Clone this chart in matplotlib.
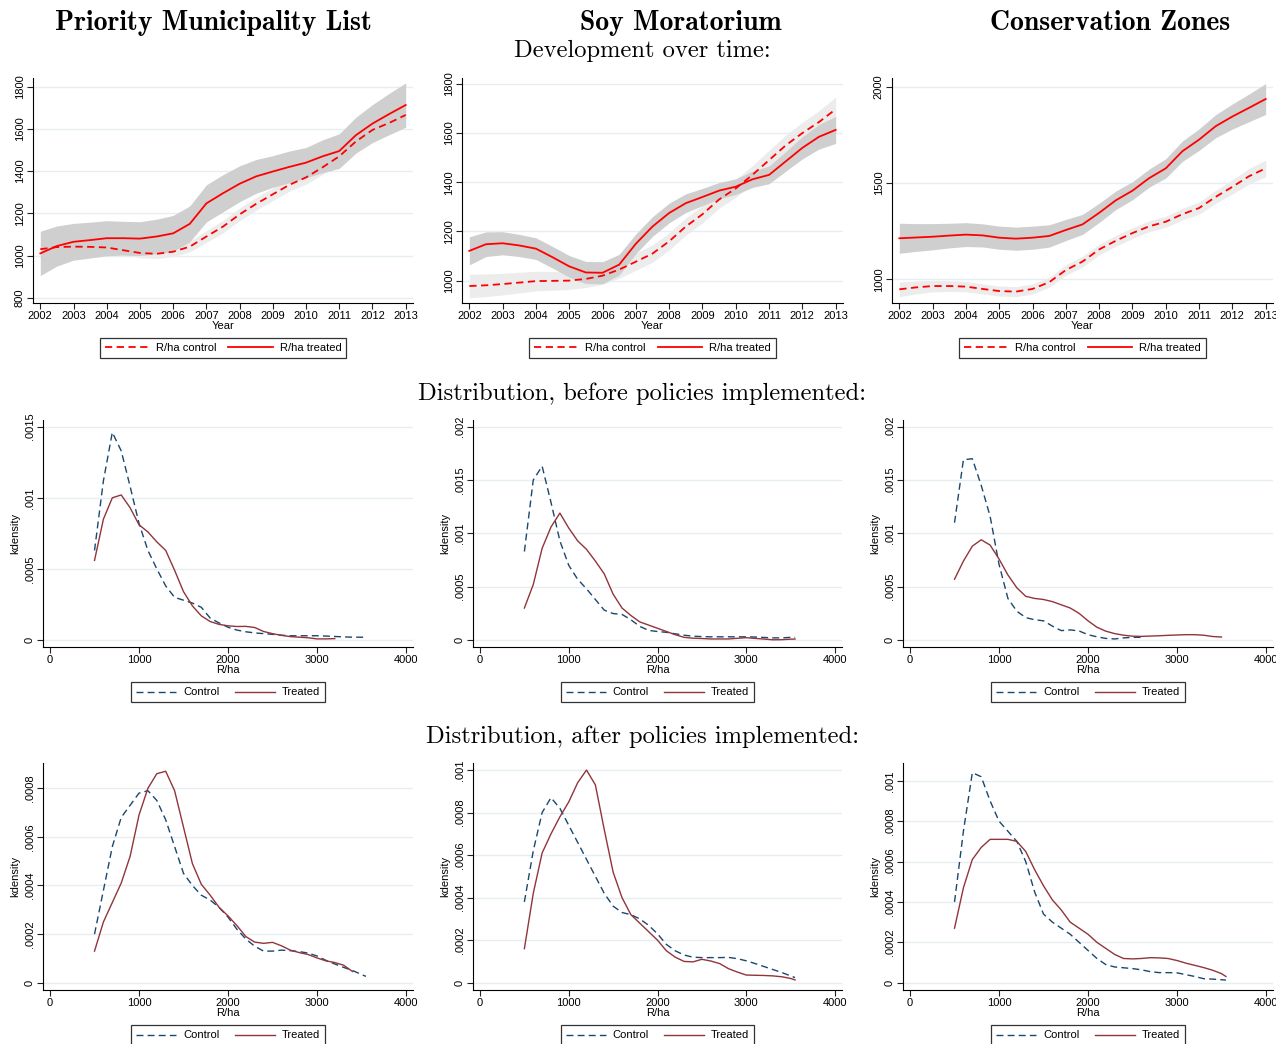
import numpy as np
import matplotlib

matplotlib.use("Agg")
import matplotlib.pyplot as plt

# ---- data -----------------------------------------------------------------
years = [2002, 2002.5, 2003, 2003.5, 2004, 2004.5, 2005, 2005.5, 2006, 2006.5, 2007, 2007.5,
         2008, 2008.5, 2009, 2009.5, 2010, 2010.5, 2011, 2011.5, 2012, 2012.5, 2013]

# Priority Municipality List: R/ha over time
pml_treated = [1010, 1045, 1065, 1073, 1082, 1082, 1080, 1090, 1105, 1150, 1247, 1295,
               1340, 1375, 1398, 1420, 1440, 1470, 1495, 1570, 1625, 1670, 1713]
pml_control = [1030, 1040, 1042, 1041, 1038, 1025, 1012, 1008, 1018, 1042, 1090, 1137,
               1195, 1245, 1290, 1335, 1370, 1418, 1470, 1540, 1595, 1628, 1666]
pml_treated_ci = [105, 95, 87, 85, 83, 80, 80, 82, 85, 85, 88, 88,
                  85, 80, 75, 75, 72, 78, 82, 85, 90, 98, 105]
pml_control_ci = [28, 26, 24, 23, 22, 22, 22, 22, 23, 25, 28, 30,
                  30, 30, 30, 30, 32, 34, 36, 38, 40, 42, 45]

# Soy Moratorium
soy_treated = [1121, 1148, 1152, 1143, 1130, 1095, 1058, 1033, 1032, 1065, 1150, 1220,
               1275, 1315, 1340, 1366, 1382, 1412, 1430, 1485, 1540, 1585, 1613]
soy_control = [978, 981, 986, 992, 998, 999, 1000, 1007, 1020, 1045, 1077, 1110,
               1160, 1220, 1270, 1330, 1375, 1430, 1490, 1550, 1600, 1645, 1697]
soy_treated_ci = [57, 50, 47, 45, 44, 44, 44, 45, 45, 42, 40, 40,
                  40, 38, 35, 33, 32, 33, 36, 40, 45, 50, 55]
soy_control_ci = [48, 46, 44, 42, 40, 38, 36, 35, 35, 35, 35, 35,
                  35, 35, 35, 35, 36, 38, 40, 42, 44, 46, 50]

# Conservation Zones
cz_treated = [1213, 1217, 1221, 1227, 1232, 1228, 1216, 1211, 1216, 1225, 1256, 1285,
              1345, 1410, 1460, 1525, 1576, 1665, 1725, 1795, 1845, 1890, 1936]
cz_control = [948, 958, 965, 965, 962, 950, 939, 936, 950, 985, 1048, 1092,
              1155, 1200, 1240, 1275, 1299, 1338, 1370, 1428, 1480, 1535, 1576]
cz_treated_ci = [78, 72, 68, 64, 62, 60, 60, 60, 60, 58, 55, 52,
                 50, 48, 47, 47, 50, 53, 56, 60, 65, 72, 80]
cz_control_ci = [38, 34, 30, 28, 27, 26, 26, 26, 26, 26, 27, 28,
                 28, 28, 28, 28, 29, 30, 32, 34, 37, 40, 43]

# kernel densities of R/ha
rha = [500, 600, 700, 800, 900, 1000, 1100, 1200, 1300, 1400, 1500, 1600, 1700, 1800, 1900,
       2000, 2100, 2200, 2300, 2400, 2500, 2600, 2700, 2800, 2900, 3000, 3100, 3200, 3300,
       3400, 3500, 3550]
nan = np.nan

pml_before_control = [0.00063, 0.00112, 0.00146, 0.00133, 0.00108, 0.00082, 0.00063, 0.0005,
                      0.00038, 0.0003, 0.00028, 0.00026, 0.00023, 0.000154, 0.00012, 0.00009,
                      0.00007, 0.000058, 0.00005, 0.000045, 0.00004, 0.000034, 0.00003, 0.00003,
                      0.00003, 0.00003, 0.000028, 0.000025, 0.000022, 0.00002, 0.00002, 0.000019]
pml_before_treated = [0.00056, 0.00085, 0.001, 0.00102, 0.00093, 0.00081, 0.00076, 0.00069,
                      0.00063, 0.00049, 0.00034, 0.00024, 0.00017, 0.00013, 0.00011, 0.0001,
                      0.000095, 0.000096, 0.000088, 0.00006, 0.000045, 0.000033, 0.000024,
                      0.00002, 0.000016, 0.000008, 0.000008, 0.00001, nan, nan, nan, nan]
soy_before_control = [0.00083, 0.0015, 0.00163, 0.00129, 0.00093, 0.0007, 0.00057, 0.00048,
                      0.00038, 0.00028, 0.000248, 0.00024, 0.00019, 0.000128, 0.00009, 0.00008,
                      0.000072, 0.000058, 0.000045, 0.000036, 0.000032, 0.00003, 0.00003,
                      0.00003, 0.00003, 0.00003, 0.000028, 0.000024, 0.00002, 0.00002,
                      0.000025, 0.000025]
soy_before_treated = [0.0003, 0.00052, 0.00086, 0.00106, 0.00119, 0.00105, 0.00093, 0.00085,
                      0.00074, 0.00062, 0.00043, 0.0003, 0.00023, 0.00017, 0.00014, 0.00011,
                      0.00008, 0.00005, 0.000025, 0.000017, 0.000014, 0.00001, 0.00001, 0.00001,
                      0.000016, 0.000022, 0.000015, 0.000009, 0.000002, 0.000003, 0.000008,
                      0.000009]
cz_before_control = [0.0011, 0.00169, 0.0017, 0.00145, 0.00116, 0.00071, 0.00039, 0.00027,
                     0.00021, 0.00019, 0.00018, 0.00013, 0.000088, 0.000095, 0.000085, 0.00005,
                     0.00003, 0.000015, 0.00001, 0.00002, 0.000025, 0.000025, nan, nan, nan,
                     nan, nan, nan, nan, nan, nan, nan]
cz_before_treated = [0.00057, 0.00074, 0.00088, 0.00094, 0.00089, 0.00076, 0.00061, 0.00049,
                     0.00041, 0.00039, 0.00038, 0.00036, 0.00033, 0.0003, 0.00025, 0.00018,
                     0.00012, 0.000083, 0.00006, 0.000045, 0.000036, 0.000034, 0.000037,
                     0.00004, 0.000044, 0.000047, 0.00005, 0.00005, 0.000045, 0.000033,
                     0.000028, nan]

pml_after_control = [0.0002, 0.00038, 0.00056, 0.00068, 0.00073, 0.00078, 0.00079, 0.00075,
                     0.00067, 0.00056, 0.00045, 0.0004, 0.00036, 0.00034, 0.00031, 0.00027,
                     0.00022, 0.00018, 0.00015, 0.00013, 0.00013, 0.000134, 0.000132, 0.000128,
                     0.000122, 0.00011, 0.000092, 0.000077, 0.000063, 0.00005, 0.000034,
                     0.000026]
pml_after_treated = [0.00013, 0.00025, 0.00033, 0.00041, 0.00052, 0.00069, 0.0008, 0.00086,
                     0.00087, 0.00079, 0.00064, 0.00049, 0.000405, 0.00036, 0.00031, 0.000275,
                     0.000235, 0.00019, 0.000167, 0.000162, 0.000166, 0.000152, 0.000134,
                     0.000124, 0.000116, 0.000102, 0.00009, 0.000083, 0.000072, 0.000046,
                     nan, nan]
soy_after_control = [0.00038, 0.00062, 0.0008, 0.00087, 0.00082, 0.00074, 0.00066, 0.00058,
                     0.0005, 0.00042, 0.00036, 0.00033, 0.00032, 0.0003, 0.00027, 0.00023,
                     0.00018, 0.00015, 0.00013, 0.00012, 0.000118, 0.000118, 0.000118,
                     0.000119, 0.000113, 0.000103, 0.00009, 0.000076, 0.000062, 0.000048,
                     0.000032, 0.000024]
soy_after_treated = [0.00016, 0.00042, 0.00061, 0.0007, 0.00078, 0.00085, 0.00094, 0.001,
                     0.00093, 0.00072, 0.00052, 0.0004, 0.00032, 0.00028, 0.00024, 0.0002,
                     0.00015, 0.00012, 0.0001, 0.000098, 0.00011, 0.000102, 0.00009, 0.000066,
                     0.00005, 0.000036, 0.000035, 0.000034, 0.000032, 0.000028, 0.00002,
                     0.000013]
cz_after_control = [0.0004, 0.00075, 0.00104, 0.00102, 0.0009, 0.0008, 0.00075, 0.0007,
                    0.0006, 0.00045, 0.00034, 0.0003, 0.00027, 0.00024, 0.0002, 0.00016,
                    0.00012, 0.00009, 0.000078, 0.000074, 0.00007, 0.000064, 0.000055,
                    0.00005, 0.00005, 0.000049, 0.00004, 0.000031, 0.00002, 0.000018,
                    0.000015, 0.000013]
cz_after_treated = [0.00027, 0.00047, 0.00061, 0.00067, 0.00071, 0.00071, 0.00071, 0.0007,
                    0.00065, 0.00056, 0.00048, 0.00041, 0.00036, 0.0003, 0.00027, 0.00024,
                    0.0002, 0.00017, 0.00014, 0.00012, 0.000118, 0.00012, 0.000124, 0.000123,
                    0.00012, 0.00011, 0.000097, 0.000086, 0.000075, 0.000062, 0.000045,
                    0.000031]

column_titles = ["Priority Municipality List", "Soy Moratorium", "Conservation Zones"]
row_titles = ["Development over time:", "Distribution, before policies implemented:",
              "Distribution, after policies implemented:"]

# ---- styling --------------------------------------------------------------
W, H = 1276, 1044
RED = "#ff0000"
NAVY = "#1a476f"
MAROON = "#90353b"
GRID = "#e6eef0"
BAND_T = "#cfcfcf"
BAND_C = "#ececec"
TICK_FS = 8

plt.rcParams["font.family"] = ["Liberation Sans", "DejaVu Sans"]
plt.rcParams["axes.linewidth"] = 0.8
plt.rcParams["xtick.major.width"] = 0.8
plt.rcParams["ytick.major.width"] = 0.8

fig = plt.figure(figsize=(W / 100, H / 100), dpi=100)


def place(left, right, top, bottom):
    return fig.add_axes([left / W, 1 - bottom / H, (right - left) / W, (bottom - top) / H])


def style(ax, yticks, ylabels, ylim):
    for s in ("top", "right"):
        ax.spines[s].set_visible(False)
    ax.set_ylim(*ylim)
    ax.set_yticks(yticks)
    ax.set_yticklabels(ylabels, rotation=90, va="center", fontsize=TICK_FS)
    ax.tick_params(axis="both", length=4, pad=2, labelsize=TICK_FS, color="#222222")
    ax.grid(True, axis="y", color=GRID, lw=1.0)
    ax.set_axisbelow(True)


def legend(ax, handle_len, col_space):
    leg = ax.legend(loc="center", bbox_to_anchor=(0.5, -0.2), ncol=2, fontsize=TICK_FS,
                    frameon=True, fancybox=False, edgecolor="black", handlelength=handle_len,
                    columnspacing=col_space, borderpad=0.45, handletextpad=0.6)
    leg.get_frame().set_linewidth(0.9)


# ---- top row: R/ha over time ----------------------------------------------
top = [
    (33, 413, pml_treated, pml_control, pml_treated_ci, pml_control_ci,
     [800, 1000, 1200, 1400, 1600, 1800], (775, 1841)),
    (462, 843, soy_treated, soy_control, soy_treated_ci, soy_control_ci,
     [1000, 1200, 1400, 1600, 1800], (909, 1824)),
    (892, 1273, cz_treated, cz_control, cz_treated_ci, cz_control_ci,
     [1000, 1500, 2000], (877, 2045)),
]
yr = np.array(years)
for left, right, tr, co, tr_ci, co_ci, yt, ylim in top:
    ax = place(left, right, 78, 303)
    tr, co = np.array(tr), np.array(co)
    tr_ci, co_ci = np.array(tr_ci), np.array(co_ci)
    ax.fill_between(yr, co - co_ci, co + co_ci, color=BAND_C, lw=0)
    ax.fill_between(yr, tr - tr_ci, tr + tr_ci, color=BAND_T, lw=0)
    ax.plot(yr, co, color=RED, lw=1.3, ls=(0, (4, 2.5)), label="R/ha control")
    ax.plot(yr, tr, color=RED, lw=1.3, label="R/ha treated")
    style(ax, yt, [str(v) for v in yt], ylim)
    ax.set_xlim(2001.78, 2013.22)
    ax.set_xticks(range(2002, 2014))
    ax.set_xlabel("Year", fontsize=TICK_FS, labelpad=0)
    legend(ax, 4.0, 1.1)

# ---- density rows ---------------------------------------------------------
r = np.array(rha)

dens = [
    (420, 647, [
        (43, 413, pml_before_control, pml_before_treated, [0, 0.0005, 0.001, 0.0015],
         (-0.000049, 0.001547)),
        (473, 842, soy_before_control, soy_before_treated,
         [0, 0.0005, 0.001, 0.0015, 0.002], (-0.0000655, 0.002063)),
        (903, 1273, cz_before_control, cz_before_treated,
         [0, 0.0005, 0.001, 0.0015, 0.002], (-0.0000655, 0.002063)),
    ]),
    (763, 990, [
        (43, 413, pml_after_control, pml_after_treated,
         [0, 0.0002, 0.0004, 0.0006, 0.0008], (-0.00003, 0.000904)),
        (473, 842, soy_after_control, soy_after_treated,
         [0, 0.0002, 0.0004, 0.0006, 0.0008, 0.001], (-0.0000343, 0.001033)),
        (903, 1273, cz_after_control, cz_after_treated,
         [0, 0.0002, 0.0004, 0.0006, 0.0008, 0.001], (-0.000036, 0.001088)),
    ]),
]
for t, b, panels in dens:
    for left, right, co, tr, yt, ylim in panels:
        ax = place(left, right, t, b)
        ax.plot(r, co, color=NAVY, lw=1.0, ls=(0, (5, 3)), label="Control")
        ax.plot(r, tr, color=MAROON, lw=1.0, label="Treated")
        labels = ["0"] + ["." + ("%.4f" % v).split(".")[1].rstrip("0") for v in yt[1:]]
        style(ax, yt, labels, ylim)
        ax.set_xlim(-79, 4079)
        ax.set_xticks([0, 1000, 2000, 3000, 4000])
        ax.set_xlabel("R/ha", fontsize=TICK_FS, labelpad=0)
        ax.set_ylabel("kdensity", fontsize=TICK_FS, labelpad=3)
        legend(ax, 3.6, 1.4)

# ---- titles ---------------------------------------------------------------
for x, title in zip([213, 681, 1110], column_titles):
    fig.text(x / W, 1 - 23 / H, title, ha="center", va="center", family="cmb10", fontsize=20)
for y, title in zip([51, 394, 737], row_titles):
    fig.text(642 / W, 1 - y / H, title, ha="center", va="center", family="cmr10", fontsize=17.7)

fig.savefig("out.png", dpi=100)
